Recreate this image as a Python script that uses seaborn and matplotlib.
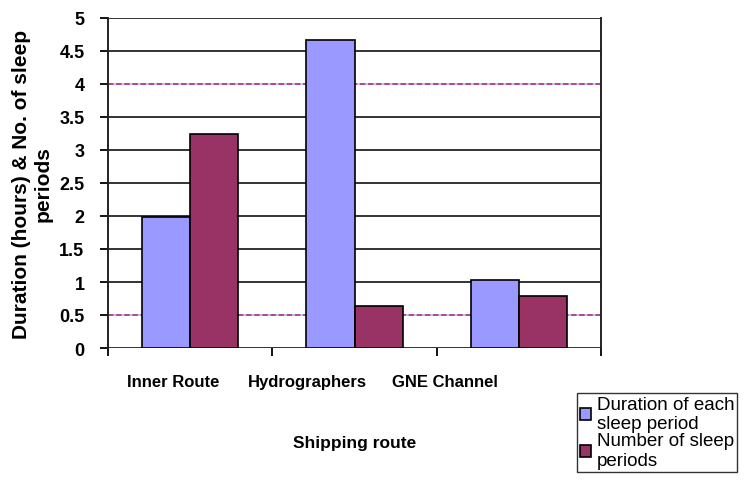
import matplotlib
matplotlib.use("Agg")
import matplotlib.pyplot as plt
import matplotlib.transforms as mtransforms
import seaborn as sns
import pandas as pd
import numpy as np

# Sleep data per shipping route
routes = ["Inner Route", "Hydrographers", "GNE Channel"]
duration_hours = [1.98, 4.67, 1.03]
sleep_periods = [3.24, 0.64, 0.79]
series_names = ["Duration of each\nsleep period", "Number of sleep\nperiods"]
y_ticks = [0, 0.5, 1, 1.5, 2, 2.5, 3, 3.5, 4, 4.5, 5]
dashed_levels = [0.5, 4]

df = pd.DataFrame({
    "route": routes * 2,
    "value": duration_hours + sleep_periods,
    "series": [series_names[0]] * 3 + [series_names[1]] * 3,
})

sns.set_style("white")
plt.rcParams["font.family"] = ["Liberation Sans", "DejaVu Sans"]
plt.rcParams["text.color"] = "black"
plt.rcParams["axes.labelcolor"] = "black"
plt.rcParams["xtick.color"] = "black"
plt.rcParams["ytick.color"] = "black"

fig = plt.figure(figsize=(7.48, 4.85), dpi=100)
ax = fig.add_axes([108 / 748, 1 - 349 / 485, (601 - 108) / 748, (349 - 19) / 485])

# horizontal grid: solid dark lines, dashed pink at selected levels
for y in y_ticks:
    if y in dashed_levels:
        ax.axhline(y, color="#b8bcff", lw=1.3, zorder=0)
        ax.axhline(y, color="#b0407a", lw=1.3, ls=(0, (3, 1.5)), zorder=0.1)
    else:
        ax.axhline(y, color="#333333", lw=1.4, zorder=0)

sns.barplot(data=df, x="route", y="value", hue="series",
            palette=["#9999FF", "#993366"], saturation=1,
            edgecolor="black", linewidth=1.2, width=0.585, gap=0,
            ax=ax, zorder=2)
handles, labels = ax.get_legend_handles_labels()
if ax.get_legend() is not None:
    ax.get_legend().remove()

ax.set_ylim(0, 5)
ax.set_xlim(-0.5, 2.5)
ax.set_yticks(y_ticks)
ax.set_yticklabels([f"{t:g}" for t in y_ticks])

# tick marks at category boundaries only
ax.set_xticks(np.arange(len(routes)))
ax.set_xticklabels(routes)
ax.set_xticks([-0.5, 0.5, 1.5, 2.5], minor=True)
ax.tick_params(axis="x", which="major", length=0, pad=19, labelsize=12)
ax.tick_params(axis="x", which="minor", length=6, width=1.3, color="black", direction="out", bottom=True)
ax.tick_params(axis="y", length=6, width=1.3, color="black", direction="out", left=True, labelsize=13, pad=11)
for lab in ax.get_xticklabels() + ax.get_yticklabels():
    lab.set_fontweight("bold")

# category labels sit packed toward the left
label_shift_px = [-17, -47, -74]
for lab, dx in zip(ax.get_xticklabels(), label_shift_px):
    lab.set_transform(lab.get_transform() +
                      mtransforms.ScaledTranslation(dx / 100, 0, fig.dpi_scale_trans))

for side in ["left", "right"]:
    ax.spines[side].set_visible(True)
    ax.spines[side].set_color("#222222")
    ax.spines[side].set_linewidth(1.4)
    ax.spines[side].set_bounds(0, 5)
ax.spines["top"].set_visible(False)
ax.spines["bottom"].set_visible(False)

ax.set_xlabel("Shipping route", fontsize=12.5, fontweight="bold", labelpad=33)
ax.set_ylabel("Duration (hours) & No. of sleep\nperiods", fontsize=15,
              fontweight="bold", labelpad=5, linespacing=1.15)

leg = fig.legend(handles, labels, loc="upper left",
                 bbox_to_anchor=(577 / 748, 1 - 394 / 485),
                 frameon=True, fancybox=False, edgecolor="black",
                 fontsize=13.5, handlelength=0.6, handleheight=0.6,
                 handletextpad=0.3, borderpad=0.15, labelspacing=0.0,
                 borderaxespad=0)
leg.get_frame().set_linewidth(1.0)

fig.savefig("out.png", dpi=100)
